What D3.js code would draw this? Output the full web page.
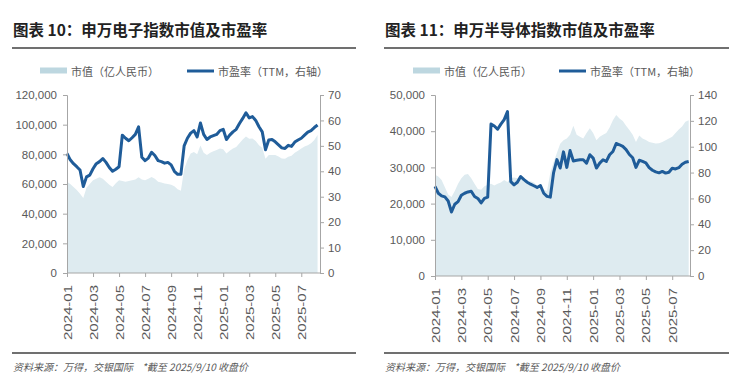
<!DOCTYPE html>
<html>
<head>
<meta charset="utf-8">
<script src="https://cdn.jsdelivr.net/npm/d3@7/dist/d3.min.js"></script>
<style>
  html, body { margin: 0; padding: 0; background: #fff; }
  svg { display: block; }
  text { white-space: pre; }
</style>
</head>
<body>
<svg id="chart" width="729" height="383"></svg>
<script>
// ---------------- DATA (weekly readings, Jan-2024 .. 10-Sep-2025) ----------------
const tickLabels = ["2024-01","2024-03","2024-05","2024-07","2024-09","2024-11","2025-01","2025-03","2025-05","2025-07"];
const tickIndex  = [0, 8, 16, 24, 32, 40, 48, 56, 64, 72];

// 图表10 申万电子指数
const elecMktCap = [61500,60000,58000,56000,53500,50500,57500,60000,62500,63500,
  64500,63500,61500,59500,58000,60500,62500,62000,61500,62000,
  62500,63000,64500,63000,62500,63500,64800,63500,61500,61000,
  60300,60000,59500,58500,56500,55500,70000,76000,80500,81500,
  80000,86000,81000,79500,81000,82000,83000,84000,83500,80500,
  82500,84000,85000,87400,90000,92000,90500,90700,89000,86200,
  84500,77000,79500,79500,79500,78500,77200,77000,78400,79000,
  81000,82500,84000,85200,86200,87500,89600,93000];
const elecPE = [47.0,44.5,43.0,41.8,40.5,34.0,37.8,38.5,41.0,43.0,
  43.8,45.0,43.5,41.5,40.0,40.8,41.8,54.2,53.0,52.0,
  53.2,54.5,57.5,45.5,44.2,45.2,47.5,46.2,44.2,43.8,
  43.2,43.5,42.5,40.0,38.8,38.8,50.0,53.0,55.0,56.0,
  53.5,59.0,54.5,52.5,53.5,54.0,54.5,56.0,56.5,52.5,
  54.2,55.5,56.5,58.8,60.8,63.0,61.0,61.5,60.0,57.5,
  55.5,48.5,52.3,52.5,51.6,50.4,49.2,49.0,50.2,49.8,
  51.5,52.3,53.0,54.2,55.4,56.0,57.2,58.2];

// 图表11 申万半导体指数
const semiMktCap = [28000,27500,26500,24500,22500,21800,23500,25500,27000,28000,
  28200,27000,25500,24000,23800,24800,25200,25500,25000,25500,
  25800,26500,26000,27000,27200,27000,27500,26500,26000,26200,
  25800,25000,24500,23800,23500,28500,31500,34000,36500,37500,
  38000,39000,41500,39000,38500,38000,39500,40800,39500,37500,
  38500,39000,39500,41000,43000,44500,43500,42800,41500,40300,
  39000,37000,38800,38000,37600,37000,36800,36600,36700,37000,
  37500,38000,38500,39500,40500,41300,42600,43000];
const semiPE = [69.4,64.0,62.0,61.2,58.0,49.5,55.5,57.5,62.5,64.0,
  65.0,65.5,61.5,60.0,56.5,60.0,61.0,117.5,116.0,113.5,
  117.5,121.0,127.2,73.0,70.5,72.5,77.0,74.5,72.5,71.0,
  69.8,68.5,70.0,64.0,61.6,61.0,80.0,90.0,83.5,96.0,
  84.0,97.0,89.0,89.5,89.9,89.9,87.3,93.8,91.2,83.5,
  87.3,89.9,88.6,93.8,96.3,102.5,101.5,100.2,97.8,94.0,
  91.5,84.0,89.5,88.6,87.5,83.8,81.8,80.5,79.8,80.9,
  79.6,80.2,83.3,82.8,83.8,86.5,88.0,88.6];

const titles = ["图表 10：申万电子指数市值及市盈率", "图表 11：申万半导体指数市值及市盈率"];
const legendArea = "市值（亿人民币）";
const legendLine = "市盈率（TTM，右轴）";
const footerText = "资料来源：万得，交银国际    *截至 2025/9/10 收盘价";

// ---------------- STYLE ----------------
const AREA = "#deebf0", AREA_SW = "#bdd7e0", LINE = "#1f5c99";
const AXIS = "#a6a6a6", TXT = "#595959";
const NUM_FONT = "'Liberation Sans', Arial, sans-serif";
const CJK_FONT = "'Noto Sans CJK SC', sans-serif";

const svg = d3.select("#chart");

// stretch a text to a target width by letter spacing
function fit(sel, target) {
  const n = sel.text().length;
  const w = sel.node().getComputedTextLength();
  if (n > 1 && w < target) sel.attr("letter-spacing", ((target - w) / (n - 1)).toFixed(2));
  return sel;
}

const panels = [
  { title: titles[0], cap: elecMktCap, pe: elecPE,
    x0: 67, x1: 320, yTop: 95, yBot: 273, xEnd: 77.75,
    capMax: 120000, capStep: 20000, peMax: 70, peStep: 10,
    ruleX0: 12, ruleX1: 356, swA: 40, swL: 187 },
  { title: titles[1], cap: semiMktCap, pe: semiPE,
    x0: 435, x1: 690, yTop: 95, yBot: 276, xEnd: 77.4,
    capMax: 50000, capStep: 10000, peMax: 140, peStep: 20,
    ruleX0: 384, ruleX1: 729, swA: 413, swL: 559 }
];

panels.forEach(p => {
  const g = svg.append("g");

  // title
  g.append("text").attr("x", p.ruleX0 + 1).attr("y", 36)
    .attr("font-family", CJK_FONT).attr("font-weight", "bold")
    .attr("font-size", 15.5).attr("fill", "#222").text(p.title);
  g.append("line").attr("x1", p.ruleX0).attr("x2", p.ruleX1)
    .attr("y1", 48).attr("y2", 48).attr("stroke", "#404040").attr("stroke-width", 1.6);

  // legend
  g.append("rect").attr("x", p.swA).attr("y", 67.5).attr("width", 27).attr("height", 6)
    .attr("fill", AREA_SW);
  fit(g.append("text").attr("x", p.swA + 31).attr("y", 71).attr("dominant-baseline", "central")
    .attr("font-family", CJK_FONT).attr("font-size", 11).attr("fill", TXT).text(legendArea), 87);
  g.append("line").attr("x1", p.swL).attr("x2", p.swL + 27).attr("y1", 71).attr("y2", 71)
    .attr("stroke", LINE).attr("stroke-width", 3);
  fit(g.append("text").attr("x", p.swL + 31).attr("y", 71).attr("dominant-baseline", "central")
    .attr("font-family", CJK_FONT).attr("font-size", 11).attr("fill", TXT).text(legendLine), 109);

  // scales
  const x = d3.scaleLinear().domain([0, p.xEnd]).range([p.x0, p.x1]);
  const yL = d3.scaleLinear().domain([0, p.capMax]).range([p.yBot, p.yTop]);
  const yR = d3.scaleLinear().domain([0, p.peMax]).range([p.yBot, p.yTop]);

  // area (market cap)
  g.append("path").datum(p.cap)
    .attr("d", d3.area().x((d, i) => x(i)).y0(p.yBot).y1(d => yL(d)))
    .attr("fill", AREA);

  // PE line
  g.append("path").datum(p.pe)
    .attr("d", d3.line().x((d, i) => x(i)).y(d => yR(d)))
    .attr("fill", "none").attr("stroke", LINE).attr("stroke-width", 3)
    .attr("stroke-linejoin", "round");

  // left axis
  const axL = g.append("g").attr("transform", `translate(${p.x0},0)`)
    .call(d3.axisLeft(yL).tickValues(d3.range(0, p.capMax + 1, p.capStep))
      .tickFormat(d3.format(",")).tickSizeOuter(0).tickSize(4).tickPadding(6));
  // right axis
  const axR = g.append("g").attr("transform", `translate(${p.x1},0)`)
    .call(d3.axisRight(yR).tickValues(d3.range(0, p.peMax + 1, p.peStep))
      .tickSizeOuter(0).tickSize(4).tickPadding(4));
  // bottom axis
  const axB = g.append("g").attr("transform", `translate(0,${p.yBot})`)
    .call(d3.axisBottom(x).tickValues(tickIndex)
      .tickFormat((d, i) => tickLabels[i]).tickSizeOuter(0).tickSize(4));

  [axL, axR, axB].forEach(a => {
    a.select(".domain").attr("stroke", AXIS);
    a.selectAll(".tick line").attr("stroke", AXIS);
    a.selectAll("text").attr("font-family", NUM_FONT).attr("font-size", 11.5).attr("fill", TXT);
  });
  axB.select(".domain").attr("d", `M${p.x0},0H${p.x1}`);

  axB.selectAll(".tick text")
    .attr("transform", "rotate(-90)")
    .attr("x", -12).attr("y", 0).attr("dy", null)
    .attr("text-anchor", "end").attr("dominant-baseline", "central")
    .attr("font-size", 11)
    .attr("textLength", 55).attr("lengthAdjust", "spacingAndGlyphs");

  // footer
  g.append("line").attr("x1", p.ruleX0).attr("x2", p.ruleX1)
    .attr("y1", 353).attr("y2", 353).attr("stroke", "#404040").attr("stroke-width", 1.6);
  fit(g.append("text").attr("x", p.ruleX0 + 1).attr("y", 371)
    .attr("font-family", CJK_FONT).attr("font-style", "italic")
    .attr("font-size", 10).attr("fill", TXT).text(footerText), 235);
});
</script>
</body>
</html>
